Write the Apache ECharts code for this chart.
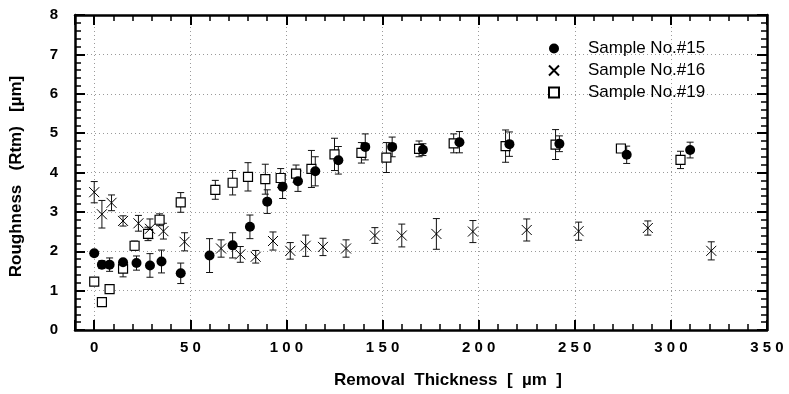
<!DOCTYPE html>
<html>
<head>
<meta charset="utf-8">
<title>Roughness vs Removal Thickness</title>
<script src="https://cdn.jsdelivr.net/npm/echarts@6/dist/echarts.min.js"></script>
<style>
    html, body { margin: 0; padding: 0; background: #fff; }
    #chart { width: 789px; height: 394px; }
</style>
</head>
<body>
<div id="chart"></div>
<script>
// Sample No.#15 (filled circle)
var s15X = [0, 4, 8, 15, 22, 29, 35, 45, 60, 72, 81, 90, 98, 106, 115, 127, 141, 155, 171, 190, 216, 242, 277, 310];
var s15Y = [1.95, 1.66, 1.66, 1.72, 1.70, 1.64, 1.74, 1.44, 1.89, 2.15, 2.62, 3.26, 3.64, 3.78, 4.03, 4.31, 4.65, 4.65, 4.58, 4.77, 4.72, 4.73, 4.45, 4.57];
var s15Err = [0.05, 0.1, 0.17, 0.05, 0.18, 0.3, 0.29, 0.26, 0.43, 0.32, 0.3, 0.3, 0.3, 0.26, 0.37, 0.35, 0.33, 0.25, 0.15, 0.27, 0.31, 0.2, 0.22, 0.2];

// Sample No.#16 (cross)
var s16X = [0, 4, 9, 15, 23, 29, 36, 47, 66, 76, 84, 93, 102, 110, 119, 131, 146, 160, 178, 197, 225, 252, 288, 321];
var s16Y = [3.50, 2.94, 3.23, 2.77, 2.71, 2.57, 2.51, 2.24, 2.07, 1.92, 1.86, 2.26, 2.01, 2.14, 2.11, 2.07, 2.40, 2.40, 2.44, 2.50, 2.54, 2.51, 2.59, 2.01];
var s16Err = [0.27, 0.35, 0.2, 0.13, 0.2, 0.25, 0.2, 0.23, 0.22, 0.2, 0.16, 0.23, 0.21, 0.27, 0.22, 0.22, 0.2, 0.29, 0.39, 0.28, 0.28, 0.23, 0.18, 0.23];

// Sample No.#19 (open square)
var s19X = [0, 4, 8, 15, 21, 28, 34, 45, 63, 72, 80, 89, 97, 105, 113, 125, 139, 152, 169, 187, 214, 240, 274, 305];
var s19Y = [1.23, 0.71, 1.04, 1.56, 2.14, 2.44, 2.80, 3.24, 3.56, 3.74, 3.89, 3.83, 3.86, 3.97, 4.09, 4.46, 4.50, 4.38, 4.60, 4.74, 4.67, 4.71, 4.61, 4.32];
var s19Err = [0.1, 0, 0.05, 0.21, 0.12, 0.17, 0.15, 0.25, 0.24, 0.31, 0.36, 0.38, 0.24, 0.22, 0.47, 0.41, 0.26, 0.38, 0.2, 0.24, 0.41, 0.38, 0.05, 0.22];

var seriesNames = ['Sample No.#15', 'Sample No.#16', 'Sample No.#19'];

var FONT = '"Liberation Sans", Arial, Helvetica, sans-serif';

// [x, y] / [x, y, err]
function pairs(xs, ys) {
    var out = [];
    for (var i = 0; i < xs.length; i++) {
        out.push([xs[i], ys[i]]);
    }
    return out;
}
function triples(xs, ys, es) {
    var out = [];
    for (var i = 0; i < xs.length; i++) {
        out.push([xs[i], ys[i], es[i]]);
    }
    return out;
}

// 误差棒
function errorBarItem(params, api) {
    var x = api.value(0), y = api.value(1), e = api.value(2);
    if (!e) {
        return null;
    }
    var hi = api.coord([x, y + e]);
    var lo = api.coord([x, y - e]);
    var w = 3.5;
    var st = {stroke: '#111', lineWidth: 1};
    return {
        type: 'group',
        children: [
            {type: 'line', shape: {x1: hi[0], y1: hi[1], x2: lo[0], y2: lo[1]}, style: st},
            {type: 'line', shape: {x1: hi[0] - w, y1: hi[1], x2: hi[0] + w, y2: hi[1]}, style: st},
            {type: 'line', shape: {x1: lo[0] - w, y1: lo[1], x2: lo[0] + w, y2: lo[1]}, style: st}
        ]
    };
}

function spaced(v) {
    return v < 0 ? '' : String(v).split('').join(' ');
}

var gridLine = {show: true, lineStyle: {color: '#9a9a9a', width: 1, type: [1, 3]}};
var boxLine = {show: true, onZero: false, lineStyle: {color: '#000', width: 2.5}};
var majorTick = {show: true, inside: true, length: 10, lineStyle: {color: '#000', width: 2}};
var minorTickAxis = {show: true, inside: true, length: 6, lineStyle: {color: '#000', width: 1.5}};

function minorX(pos) {
    return {
        type: 'value', position: pos, min: -10, max: 350, interval: 10,
        axisLine: {show: false, onZero: false}, axisTick: minorTickAxis, axisLabel: {show: false}, splitLine: {show: false}
    };
}
function minorY(pos) {
    return {
        type: 'value', position: pos, min: 0, max: 8, interval: 0.2,
        axisLine: {show: false, onZero: false}, axisTick: minorTickAxis, axisLabel: {show: false}, splitLine: {show: false}
    };
}

var option = {
    backgroundColor: '#fff',
    animation: false,
    textStyle: {fontFamily: FONT},
    grid: {left: 74, right: 22, top: 15, bottom: 57, containLabel: false},
    legend: {
        data: seriesNames,
        orient: 'vertical',
        left: 543,
        top: 35,
        itemWidth: 10,
        itemHeight: 10,
        itemGap: 5,
        textStyle: {fontFamily: FONT, fontSize: 17, color: '#000', padding: [0, 0, 0, 24]}
    },
    xAxis: [
        {
            type: 'value', position: 'bottom', min: -10, max: 350, splitNumber: 7,
            name: 'Removal  Thickness  [  µm  ]',
            nameLocation: 'middle',
            nameGap: 42,
            nameTextStyle: {fontFamily: FONT, fontSize: 17, fontWeight: 'bold', color: '#000', padding: [0, 0, 0, 54]},
            axisLine: boxLine,
            axisTick: majorTick,
            axisLabel: {formatter: spaced, margin: 10, fontFamily: FONT, fontSize: 15, fontWeight: 'bold', color: '#000'},
            splitLine: gridLine
        },
        minorX('bottom'),
        {
            type: 'value', position: 'top', min: -10, max: 350, splitNumber: 7,
            axisLine: boxLine, axisTick: majorTick, axisLabel: {show: false}, splitLine: {show: false}
        },
        minorX('top')
    ],
    yAxis: [
        {
            type: 'value', position: 'left', min: 0, max: 8, interval: 1,
            name: 'Roughness   (Rtm)   [µm]',
            nameLocation: 'middle',
            nameGap: 50,
            nameTextStyle: {fontFamily: FONT, fontSize: 17, fontWeight: 'bold', color: '#000', padding: [0, 8, 0, 0]},
            axisLine: boxLine,
            axisTick: majorTick,
            axisLabel: {margin: 17, fontFamily: FONT, fontSize: 15, fontWeight: 'bold', color: '#000'},
            splitLine: gridLine
        },
        minorY('left'),
        {
            type: 'value', position: 'right', min: 0, max: 8, interval: 1,
            axisLine: boxLine, axisTick: majorTick, axisLabel: {show: false}, splitLine: {show: false}
        },
        minorY('right')
    ],
    series: [
        {
            type: 'custom', renderItem: errorBarItem, silent: true, z: 1,
            encode: {x: 0, y: 1}, data: triples(s15X, s15Y, s15Err)
        },
        {
            type: 'custom', renderItem: errorBarItem, silent: true, z: 1,
            encode: {x: 0, y: 1}, data: triples(s16X, s16Y, s16Err)
        },
        {
            type: 'custom', renderItem: errorBarItem, silent: true, z: 1,
            encode: {x: 0, y: 1}, data: triples(s19X, s19Y, s19Err)
        },
        {
            name: seriesNames[0], type: 'scatter', z: 3,
            symbol: 'circle', symbolSize: 10,
            itemStyle: {color: '#000', opacity: 1},
            data: pairs(s15X, s15Y)
        },
        {
            name: seriesNames[1], type: 'scatter', z: 3,
            symbol: 'path://M0,0L10,10M10,0L0,10', symbolSize: 10,
            itemStyle: {color: 'rgba(0,0,0,0)', borderColor: '#000', borderWidth: 1, opacity: 1},
            data: pairs(s16X, s16Y)
        },
        {
            name: seriesNames[2], type: 'scatter', z: 2,
            symbol: 'rect', symbolSize: 9,
            itemStyle: {color: '#fff', borderColor: '#000', borderWidth: 1.2, opacity: 1},
            data: pairs(s19X, s19Y)
        }
    ]
};

var myChart = echarts.init(document.getElementById('chart'), null, {renderer: 'canvas'});
myChart.setOption(option);
</script>
</body>
</html>
